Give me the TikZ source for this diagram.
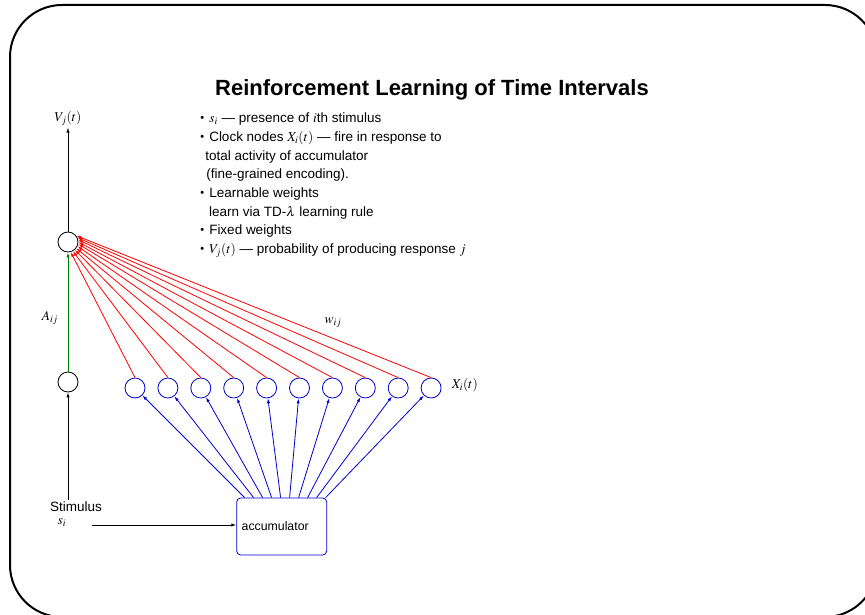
\documentclass[tikz,border=0pt]{standalone}
\usepackage{mathptmx}
\usepackage{fontspec}
\setmainfont{Liberation Sans}
\usetikzlibrary{positioning, calc, arrows.meta}

\newcommand{\bul}{\raisebox{1.2pt}{\fontsize{11}{11}\selectfont\textbullet}\hspace{5pt}}

\begin{document}
\begin{tikzpicture}[x=1pt, y=-1pt, line width=0.8pt,
    neuron/.style={circle, draw, minimum size=20pt, inner sep=0pt},
    clocknode/.style={neuron, draw=blue!80!black},
    arr/.style={-{Latex[length=5pt, width=3.2pt]}},
    lbl/.style={font=\fontsize{13.5}{18.7}\selectfont, inner sep=2pt}]
    \useasboundingbox (0,0) rectangle (865,615);
    % Rama slide
    \draw[line width=2pt, rounded corners=52pt] (10,5) rectangle (877,617);
    % Titlu
    \node[font=\fontsize{22}{26}\selectfont\bfseries] (title) at (432,90)
      {Reinforcement Learning of Time Intervals};
    % Lista explicatii
    \node[lbl, anchor=north west, align=left, inner sep=0pt] (notes) at (200,112.5) {%
      \bul$s_i$ --- presence of $i$th stimulus\\
      \bul Clock nodes $X_i(t)$ --- fire in response to\\
      \hspace*{5pt}total activity of accumulator\\
      \hspace*{6pt}(fine-grained encoding).\\
      \bul Learnable weights\\
      \hspace*{8.8pt}learn via TD-$\lambda$ learning rule\\
      \bul Fixed weights\\
      \bul$V_j(t)$ --- probability of producing response $j$};
    % Coloana din stanga
    \node[lbl] (vout) at (68,118) {$V_j(t)$};
    \node[neuron] (v) at (68,242) {};
    \node[neuron] (a) at (68,382) {};
    \node[lbl] (aij) at (50,318) {$A_{ij}$};
    \node[lbl] (stim) at (76,507) {Stimulus};
    \node[lbl] (si) at (62,523) {$s_i$};
    \coordinate (sin) at (92,525);
    \draw[arr] (v) -- (vout);
    \draw[arr, green!50!black] (a) -- (v);
    \draw[arr] (a |- stim.north) -- (a);
    % Acumulator
    \node[lbl, font=\fontsize{12.3}{14}\selectfont, draw=blue!80!black, rounded corners=4pt,
      text width=80pt, align=left, inner xsep=5pt, minimum height=57pt] (acc) at (281.7,526.5) {accumulator};
    \draw[arr] (sin) -- (sin -| acc.west);
    % Noduri ceas X_i(t)
    \foreach \i in {1,...,10} {
      \node[clocknode] (c\i) at ({135+32.9*(\i-1)}, 388) {};
      \draw[arr, blue!80!black] ($(acc.north west)+({8.3+9*(\i-1)},0)$) -- (c\i);
      \draw[arr, red] (c\i.north) -- (v.{-75+12.6*(\i-1)});
    }
    \node[lbl, anchor=west] (xi) at ($(c10.east)+(8,-3)$) {$X_i(t)$};
    \node[lbl] (wij) at (333,323) {$w_{ij}$};
\end{tikzpicture}
\end{document}
